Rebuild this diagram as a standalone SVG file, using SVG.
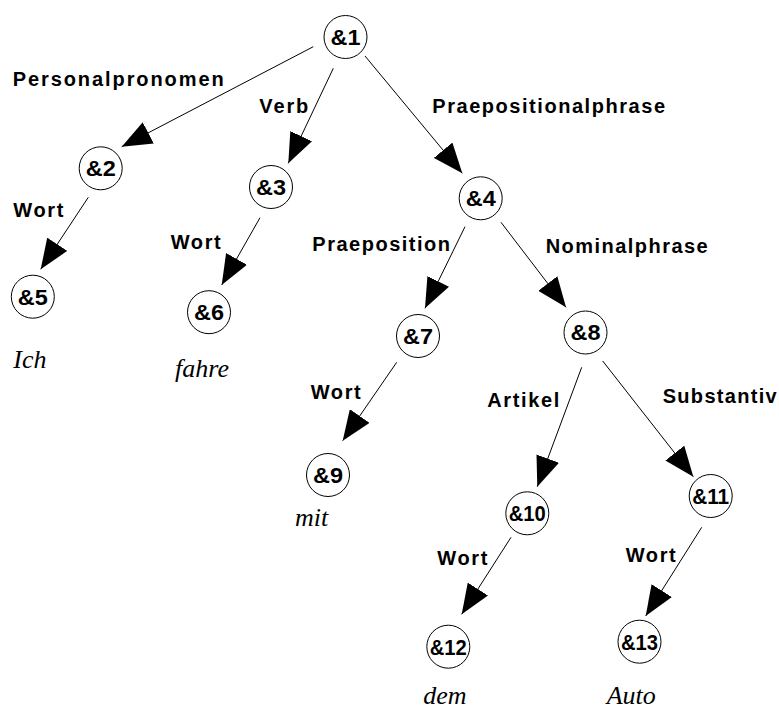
<svg xmlns="http://www.w3.org/2000/svg" width="779" height="711" viewBox="0 0 779 711">
  <style>
    .node circle { fill: #fff; stroke: #000; stroke-width: 1; }
    .node text { font-family: "Liberation Sans", Arial, sans-serif; font-weight: bold; font-size: 22px; text-anchor: middle; fill: #000; }
    .edge line { stroke: #000; stroke-width: 1; marker-end: url(#arrow); }
    .lbl { font-family: "Liberation Sans", Arial, sans-serif; font-weight: bold; font-size: 20px; fill: #000; }
    .word { font-family: "Liberation Serif", "Times New Roman", serif; font-style: italic; font-size: 26px; fill: #000; }
  </style>
  <defs>
    <marker id="arrow" markerUnits="userSpaceOnUse" markerWidth="30" markerHeight="24" refX="30" refY="12" orient="auto" viewBox="0 0 30 24">
      <path d="M0,0 L30,12 L0,24 Z" fill="#000"/>
    </marker>
  </defs>
  <rect width="779" height="711" fill="#fff"/>

  <!-- connectors -->
  <g id="edges" class="edge">
    <line x1="313.3" y1="46.7" x2="121.7" y2="146.7"/>
    <line x1="333.3" y1="68.3" x2="288.3" y2="163.3"/>
    <line x1="365" y1="56" x2="462.3" y2="173.3"/>
    <line x1="88.3" y1="197.3" x2="40.7" y2="269.3"/>
    <line x1="260" y1="217.7" x2="221.7" y2="285"/>
    <line x1="465" y1="226.7" x2="425" y2="308.3"/>
    <line x1="501" y1="222.3" x2="566" y2="307.3"/>
    <line x1="396.7" y1="362.3" x2="342.7" y2="440.7"/>
    <line x1="581.7" y1="367.3" x2="537.3" y2="486.7"/>
    <line x1="602.7" y1="361" x2="693.3" y2="476.7"/>
    <line x1="511" y1="537.3" x2="461.7" y2="614.3"/>
    <line x1="701.7" y1="527.3" x2="645.7" y2="616"/>
  </g>

  <!-- connector labels -->
  <g id="edge-labels" class="lbl">
    <text x="12.7" y="86" textLength="211" lengthAdjust="spacing">Personalpronomen</text>
    <text x="259.3" y="112.7" textLength="49" lengthAdjust="spacing">Verb</text>
    <text x="432.3" y="113.3" textLength="232.7" lengthAdjust="spacing">Praepositionalphrase</text>
    <text x="13.3" y="217.3" textLength="50" lengthAdjust="spacing">Wort</text>
    <text x="170.7" y="249" textLength="50" lengthAdjust="spacing">Wort</text>
    <text x="312.3" y="250.7" textLength="137.7" lengthAdjust="spacing">Praeposition</text>
    <text x="545.7" y="253.3" textLength="162" lengthAdjust="spacing">Nominalphrase</text>
    <text x="310.7" y="399" textLength="50" lengthAdjust="spacing">Wort</text>
    <text x="487.3" y="406.7" textLength="72" lengthAdjust="spacing">Artikel</text>
    <text x="662.7" y="402.7" textLength="114" lengthAdjust="spacing">Substantiv</text>
    <text x="437.3" y="565" textLength="50" lengthAdjust="spacing">Wort</text>
    <text x="625.7" y="561.7" textLength="50" lengthAdjust="spacing">Wort</text>
  </g>

  <!-- nodes -->
  <g id="n1" class="node"><circle cx="345.5" cy="37" r="21.5"/><text x="345.5" y="44.8" textLength="30" lengthAdjust="spacingAndGlyphs">&amp;1</text></g>
  <g id="n2" class="node"><circle cx="100.7" cy="168.3" r="21.5"/><text x="100.7" y="176.1" textLength="30" lengthAdjust="spacingAndGlyphs">&amp;2</text></g>
  <g id="n3" class="node"><circle cx="271" cy="187" r="21.5"/><text x="271" y="194.8" textLength="30" lengthAdjust="spacingAndGlyphs">&amp;3</text></g>
  <g id="n4" class="node"><circle cx="480.7" cy="198.3" r="21.5"/><text x="480.7" y="206.1" textLength="30" lengthAdjust="spacingAndGlyphs">&amp;4</text></g>
  <g id="n5" class="node"><circle cx="32.8" cy="296.7" r="21.5"/><text x="32.8" y="304.5" textLength="30" lengthAdjust="spacingAndGlyphs">&amp;5</text></g>
  <g id="n6" class="node"><circle cx="209" cy="312.2" r="21.5"/><text x="209" y="320" textLength="30" lengthAdjust="spacingAndGlyphs">&amp;6</text></g>
  <g id="n7" class="node"><circle cx="418" cy="336" r="21.5"/><text x="418" y="343.8" textLength="30" lengthAdjust="spacingAndGlyphs">&amp;7</text></g>
  <g id="n8" class="node"><circle cx="585.5" cy="332.5" r="21.5"/><text x="585.5" y="340.3" textLength="30" lengthAdjust="spacingAndGlyphs">&amp;8</text></g>
  <g id="n9" class="node"><circle cx="328" cy="475" r="21.5"/><text x="328" y="482.8" textLength="30" lengthAdjust="spacingAndGlyphs">&amp;9</text></g>
  <g id="n10" class="node"><circle cx="527.3" cy="513.3" r="21.5"/><text x="527.3" y="521.1" textLength="37" lengthAdjust="spacingAndGlyphs">&amp;10</text></g>
  <g id="n11" class="node"><circle cx="710.7" cy="496" r="21.5"/><text x="710.7" y="503.8" textLength="37" lengthAdjust="spacingAndGlyphs">&amp;11</text></g>
  <g id="n12" class="node"><circle cx="448.3" cy="646.7" r="21.5"/><text x="448.3" y="654.5" textLength="37" lengthAdjust="spacingAndGlyphs">&amp;12</text></g>
  <g id="n13" class="node"><circle cx="639.5" cy="641.7" r="21.5"/><text x="639.5" y="649.5" textLength="37" lengthAdjust="spacingAndGlyphs">&amp;13</text></g>

  <!-- leaf words -->
  <g id="words" class="word">
    <text x="13.3" y="367.7">Ich</text>
    <text x="175" y="376.7">fahre</text>
    <text x="295" y="525.7">mit</text>
    <text x="423.3" y="704">dem</text>
    <text x="606.7" y="704">Auto</text>
  </g>
</svg>
